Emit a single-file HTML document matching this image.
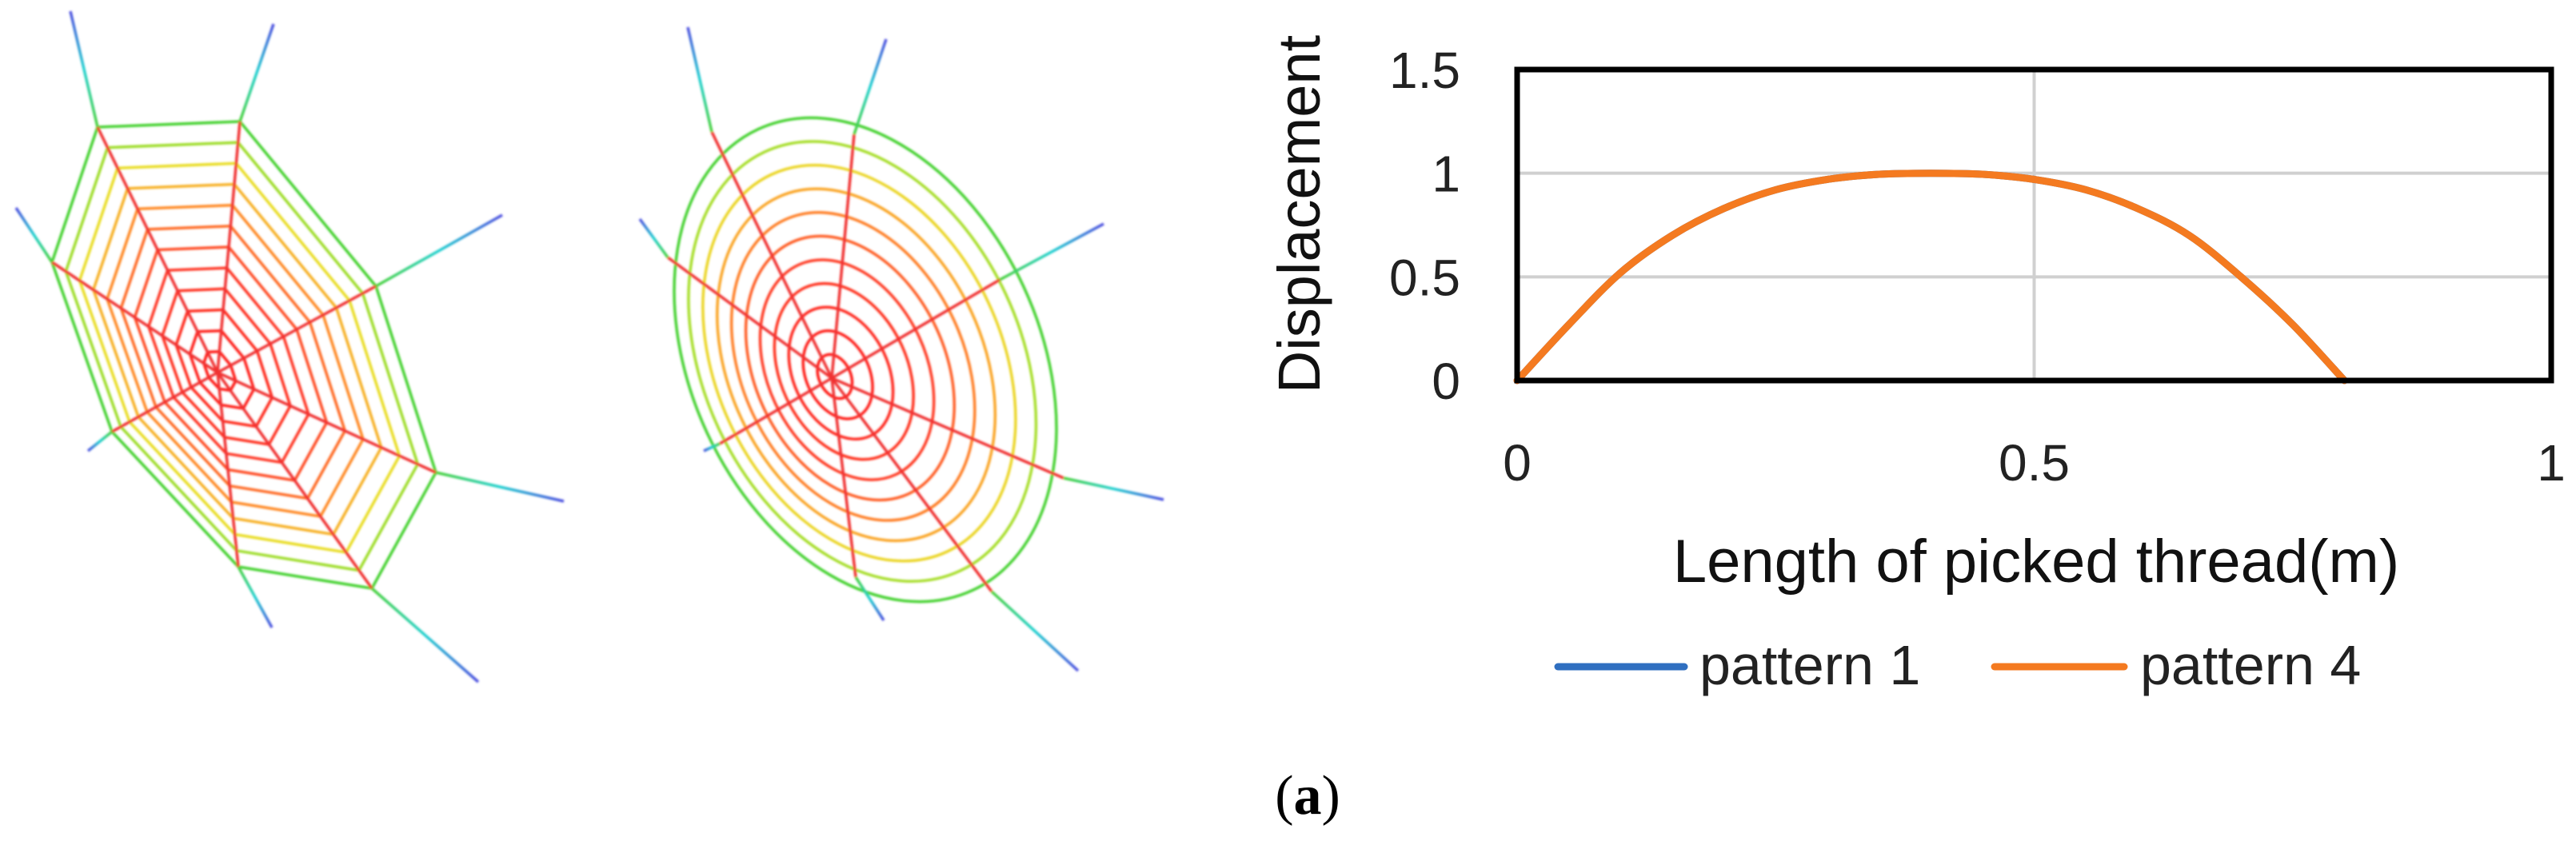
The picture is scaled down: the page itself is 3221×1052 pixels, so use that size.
<!DOCTYPE html>
<html><head><meta charset="utf-8"><style>
html,body{margin:0;padding:0;background:#fff;}
svg{display:block;}
text{font-family:"Liberation Sans",sans-serif;}
</style></head><body>
<svg id="root" width="3221" height="1052" viewBox="0 0 3221 1052" xmlns="http://www.w3.org/2000/svg">
<defs>
<filter id="blur" x="-5%" y="-5%" width="110%" height="110%"><feGaussianBlur stdDeviation="1.2"/></filter>
</defs>
<g id="webs" filter="url(#blur)"></g>
<g id="chart"></g>
<text x="1635" y="1018" font-size="70" text-anchor="middle" style="font-family:'Liberation Serif',serif">(<tspan font-weight="bold">a</tspan>)</text>
</svg>
<script>
const NS="http://www.w3.org/2000/svg";
// ---- chart data ----
const xValues=[0,0.05,0.1,0.15,0.2,0.25,0.3,0.35,0.4,0.45,0.5,0.55,0.6,0.65,0.7,0.75,0.8];
const pattern1=[0,0.27,0.52,0.7,0.83,0.92,0.97,0.995,1.0,0.995,0.97,0.92,0.83,0.7,0.5,0.27,0];
const pattern4=[0,0.27,0.52,0.7,0.83,0.92,0.97,0.995,1.0,0.995,0.97,0.92,0.83,0.7,0.5,0.27,0];
const yTicks=[0,0.5,1,1.5];
const yTickLabels=["0","0.5","1","1.5"];
const xTicks=[0,0.5,1];
const xTickLabels=["0","0.5","1"];

function mk(tag,attrs,parent){const e=document.createElementNS(NS,tag);for(const k in attrs)e.setAttribute(k,attrs[k]);parent.appendChild(e);return e;}
const L=1897,R=3190,B=476,T=87;
const sx=v=>L+(R-L)*v/1;
const sy=v=>B-(B-T)*v/1.5;
const chart=document.getElementById('chart');

yTicks.forEach((v,i)=>{
  if(v>0&&v<1.5){const g=mk('line',{x1:L,x2:R,y1:sy(v),y2:sy(v),stroke:'#d0d0d0','stroke-width':4},chart);
  
  }
  const t=mk('text',{x:1826,y:sy(v)+23,'font-size':64,'text-anchor':'end',fill:'#222'},chart);
  t.textContent=yTickLabels[i];
  
  
});
xTicks.forEach((v,i)=>{
  if(v>0&&v<1){const g=mk('line',{x1:sx(v),x2:sx(v),y1:T,y2:B,stroke:'#d0d0d0','stroke-width':4},chart);
  
  }
  const t=mk('text',{x:sx(v),y:601,'font-size':64,'text-anchor':'middle',fill:'#222'},chart);
  t.textContent=xTickLabels[i];
  
  
});
function series(vals,color,name){
  const P=xValues.map((x,i)=>[sx(x),sy(vals[i])]);
  let d='M'+P[0][0].toFixed(1)+','+P[0][1].toFixed(1);
  for(let i=0;i<P.length-1;i++){
    const p0=P[Math.max(0,i-1)],p1=P[i],p2=P[i+1],p3=P[Math.min(P.length-1,i+2)];
    const c1=[p1[0]+(p2[0]-p0[0])/6,p1[1]+(p2[1]-p0[1])/6];
    const c2=[p2[0]-(p3[0]-p1[0])/6,p2[1]-(p3[1]-p1[1])/6];
    d+=' C'+c1.map(v=>v.toFixed(1)).join(',')+' '+c2.map(v=>v.toFixed(1)).join(',')+' '+p2[0].toFixed(1)+','+p2[1].toFixed(1);
  }
  const p=mk('path',{d:d,fill:'none',stroke:color,'stroke-width':9,'stroke-linejoin':'round','stroke-linecap':'round'},chart);
  
  
}
series(pattern1,'#2f6fc0','series-pattern-1');
series(pattern4,'#f47a20','series-pattern-4');
const frame=mk('rect',{x:L,y:T,width:R-L,height:B-T,fill:'none',stroke:'#000','stroke-width':7},chart);



const yt=mk('text',{x:0,y:0,'font-size':74,'text-anchor':'middle',fill:'#111',transform:'translate(1650,268) rotate(-90)'},chart);
yt.textContent='Displacement';


const xt=mk('text',{x:2546,y:728,'font-size':76,'text-anchor':'middle',fill:'#111'},chart);
xt.textContent='Length of picked thread(m)';



const l1=mk('line',{x1:1948,x2:2106,y1:834,y2:834,stroke:'#2f6fc0','stroke-width':9,'stroke-linecap':'round'},chart);


const t1=mk('text',{x:2125,y:856,'font-size':70,fill:'#222'},chart);
t1.textContent='pattern 1';


const l2=mk('line',{x1:2494,x2:2656,y1:834,y2:834,stroke:'#f47a20','stroke-width':9,'stroke-linecap':'round'},chart);


const t2=mk('text',{x:2676,y:856,'font-size':70,fill:'#222'},chart);
t2.textContent='pattern 4';



// ---- spider webs (illustration) ----
const webs=document.getElementById('webs');
function ringColor(k){
  const stops=[[0,[255,20,20]],[0.45,[255,60,40]],[0.7,[255,150,40]],[0.85,[230,230,40]],[1,[70,210,50]]];
  for(let i=1;i<stops.length;i++){if(k<=stops[i][0]){const a=stops[i-1],b=stops[i];const t=(k-a[0])/(b[0]-a[0]);
    return 'rgb('+a[1].map((c,j)=>Math.round(c+(b[1][j]-c)*t)).join(',')+')';}}
  return 'rgb(70,210,50)';
}
function radial(cx,cy,ox,oy,ex,ey,id){
  const g=mk('linearGradient',{id:id,gradientUnits:'userSpaceOnUse',x1:ox,y1:oy,x2:ex,y2:ey},webs);
  mk('stop',{offset:0,'stop-color':'#4cd23a'},g);mk('stop',{offset:0.5,'stop-color':'#22d0d0'},g);mk('stop',{offset:1,'stop-color':'#5050e0'},g);
  const a=mk('line',{x1:cx,y1:cy,x2:ox,y2:oy,stroke:'#f03030','stroke-width':3.5},webs);
  
  
  const b=mk('line',{x1:ox,y1:oy,x2:ex,y2:ey,stroke:'url(#'+id+')','stroke-width':3.5},webs);
  
  
}
const c1=[272,466];
const v1=[[122,159],[300,152],[470,358],[545,591],[465,736],[298,709],[140,540],[65,328]];
const e1=[[88,14],[342,30],[628,269],[705,627],[598,853],[340,785],[110,564],[20,260]];
for(let r=12;r>=1;r--){const k=r/12;
  const pts=v1.map(p=>(c1[0]+(p[0]-c1[0])*k).toFixed(1)+','+(c1[1]+(p[1]-c1[1])*k).toFixed(1)).join(' ');
  const pg=mk('polygon',{points:pts,fill:'none',stroke:ringColor(k),'stroke-width':3.5},webs);
  
  }
v1.forEach((p,i)=>radial(c1[0],c1[1],p[0],p[1],e1[i][0],e1[i][1],'g1'+i));
const c2=[1040,473],oc=[1082,450];
for(let r=11;r>=1;r--){const k=r/11;
  const cx=c2[0]+(oc[0]-c2[0])*k,cy=c2[1]+(oc[1]-c2[1])*k;
  const el=mk('ellipse',{cx:cx,cy:cy,rx:218*k,ry:318*k,transform:'rotate(-25 '+cx+' '+cy+')',fill:'none',stroke:ringColor(k),'stroke-width':3.5},webs);
  
  }
const e2=[[860,34],[1108,49],[1380,280],[1455,625],[1348,839],[1105,776],[880,564],[800,274]];
const o2=[[890,165],[1068,168],[1250,350],[1330,598],[1240,740],[1070,722],[900,555],[835,322]];
o2.forEach((p,i)=>radial(c2[0],c2[1],p[0],p[1],e2[i][0],e2[i][1],'g2'+i));
</script>
</body></html>
